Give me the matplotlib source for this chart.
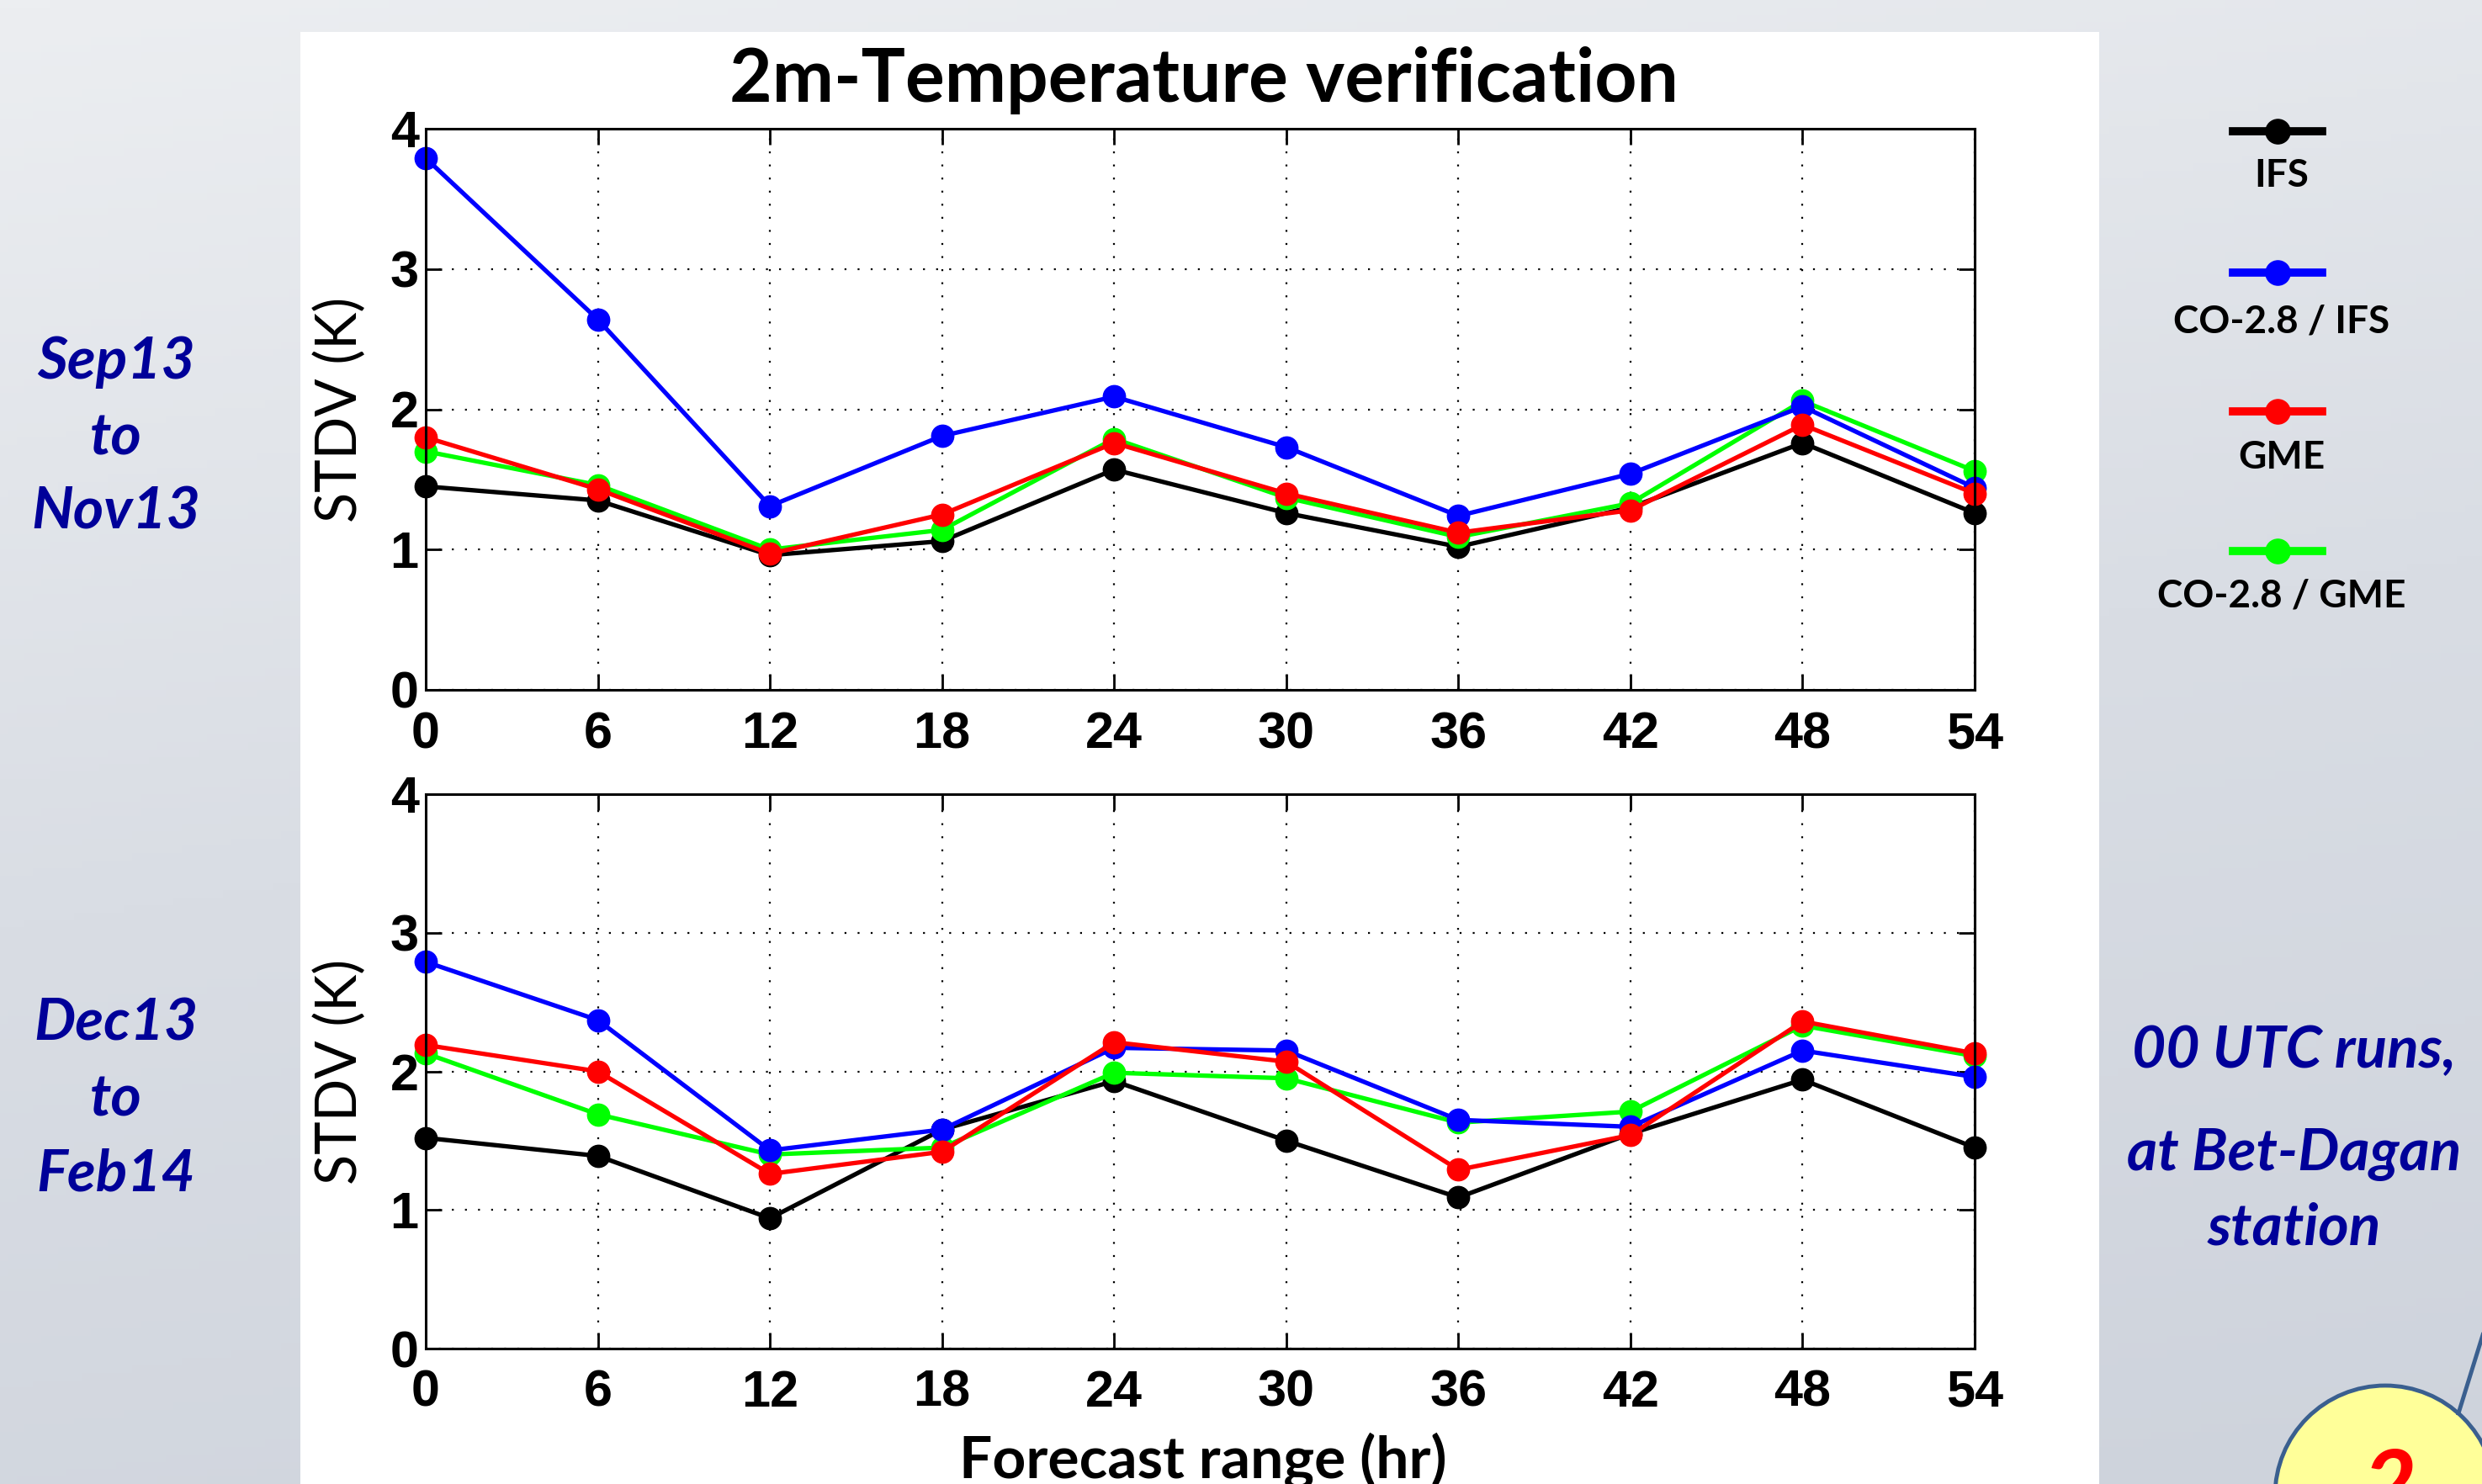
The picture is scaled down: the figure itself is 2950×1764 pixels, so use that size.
import numpy as np
import matplotlib
matplotlib.use("Agg")
import matplotlib.pyplot as plt
from matplotlib.patches import Rectangle, Circle
from matplotlib.lines import Line2D
from matplotlib.colors import LinearSegmentedColormap

# forecast range (hr)
hours = [0, 6, 12, 18, 24, 30, 36, 42, 48, 54]

# Sep13 - Nov13 STDV (K)
ifs_top = [1.45, 1.35, 0.96, 1.06, 1.57, 1.26, 1.02, 1.30, 1.76, 1.26]
co_ifs_top = [3.79, 2.64, 1.31, 1.81, 2.09, 1.73, 1.24, 1.54, 2.02, 1.44]
gme_top = [1.80, 1.43, 0.97, 1.25, 1.76, 1.40, 1.12, 1.28, 1.89, 1.40]
co_gme_top = [1.70, 1.46, 1.00, 1.14, 1.79, 1.37, 1.09, 1.33, 2.06, 1.56]

# Dec13 - Feb14 STDV (K)
ifs_bot = [1.52, 1.39, 0.94, 1.58, 1.93, 1.50, 1.09, 1.55, 1.94, 1.45]
co_ifs_bot = [2.79, 2.37, 1.43, 1.58, 2.17, 2.15, 1.65, 1.60, 2.15, 1.96]
gme_bot = [2.19, 2.00, 1.26, 1.42, 2.21, 2.07, 1.29, 1.54, 2.36, 2.13]
co_gme_bot = [2.13, 1.69, 1.40, 1.45, 1.99, 1.95, 1.63, 1.71, 2.33, 2.11]

labels = ["IFS", "CO-2.8 / IFS", "GME", "CO-2.8 / GME"]
colors = ["black", "#0000ff", "#ff0000", "#00ff00"]
draw_order = [0, 3, 1, 2]
yticks = [0, 1, 2, 3, 4]

W, H = 2950, 1764
fig = plt.figure(figsize=(W / 100, H / 100), dpi=100)
fig.patch.set_facecolor("#d8dce3")

# soft slide background
bg = fig.add_axes([0, 0, 1, 1], zorder=-10)
yy, xx = np.mgrid[0:1:200j, 0:1:300j]
shade = 0.8 * yy + 0.2 * xx
slide_cmap = LinearSegmentedColormap.from_list("slide", ["#eceef1", "#d9dde4", "#ced3dc"])
bg.imshow(shade, cmap=slide_cmap, vmin=0.0, vmax=1.0, aspect="auto",
          extent=[0, 1, 0, 1], origin="upper")
bg.axis("off")

# white plot panel
fig.patches.append(Rectangle((357 / W, 0), (2495 - 357) / W, 1 - 38 / H,
                             transform=fig.transFigure, facecolor="white",
                             edgecolor="none", zorder=-5))

tick_font = {"family": "Liberation Sans", "weight": "bold", "size": 44}
text_font = ["Lato", "DejaVu Sans"]


def draw_panel(rect, series):
    ax = fig.add_axes(rect)
    for i in draw_order:
        ax.plot(hours, series[i], color=colors[i], lw=3.8, marker="o",
                ms=19, mec=colors[i], mfc=colors[i], clip_on=False)
    ax.set_xlim(0, 54)
    ax.set_ylim(0, 4)
    ax.set_xticks(hours)
    ax.set_yticks(yticks)
    ax.set_xticklabels([str(h) for h in hours], fontdict=tick_font)
    ax.set_yticklabels([str(v) for v in yticks], fontdict=tick_font)
    ax.tick_params(direction="in", length=14, width=2, top=True, right=True,
                   pad=6)
    ax.tick_params(axis="x", pad=18)
    ax.grid(True, color="black", linestyle=(0, (1, 6)), lw=1.6)
    for s in ax.spines.values():
        s.set_linewidth(2.2)
    ax.set_ylabel("STDV (K)", family=text_font, fontsize=48, labelpad=20)
    return ax


ax1 = draw_panel([506 / W, 1 - 820 / H, (2347 - 506) / W, (820 - 153) / H],
                 [ifs_top, co_ifs_top, gme_top, co_gme_top])
ax2 = draw_panel([506 / W, 1 - 1603 / H, (2347 - 506) / W, (1603 - 944) / H],
                 [ifs_bot, co_ifs_bot, gme_bot, co_gme_bot])

fig.text(1431 / W, 1 - 95 / H, "2m-Temperature verification", family=text_font,
         weight="bold", fontsize=63, ha="center", va="center")
fig.text(1430 / W, 1 - 1757 / H, "Forecast range (hr)", family=text_font,
         weight="bold", fontsize=50, ha="center", va="baseline")

# legend on the right
leg_y = [156, 324, 489, 655]
txt_y = [209, 382, 544, 709]
for i in range(4):
    y = 1 - leg_y[i] / H
    fig.add_artist(Line2D([2654 / W, 2760 / W], [y, y], color=colors[i], lw=7,
                          transform=fig.transFigure))
    fig.add_artist(Line2D([2707 / W], [y], color=colors[i], marker="o", ms=21,
                          transform=fig.transFigure))
    fig.text(2712 / W, 1 - txt_y[i] / H, labels[i], family=text_font,
             weight="bold", fontsize=33, ha="center", va="center")

navy = "#000099"
side = [("Sep13", 431), ("to", 521), ("Nov13", 609),
        ("Dec13", 1217), ("to", 1307), ("Feb14", 1396)]
for s, y in side:
    fig.text(138 / W, 1 - y / H, s, family=text_font, weight="bold",
             style="italic", fontsize=50, color=navy, ha="center", va="center")

right = [("00 UTC runs,", 1250), ("at Bet-Dagan", 1373), ("station", 1460)]
for s, y in right:
    fig.text(2727 / W, 1 - y / H, s, family=text_font, weight="bold",
             style="italic", fontsize=50, color=navy, ha="center", va="center")

# page-number badge, bottom right
fig.add_artist(Line2D([2922, 2958], [84, 200], color="#3a5f8f", lw=3.5,
                      transform=None))
fig.patches.append(Circle((2835, -14), 131, facecolor="#ffff99",
                          edgecolor="#3a5f8f", lw=3.5, transform=None))
fig.text(2840, 1764 - 1720, "2", transform=None, family=text_font,
         weight="bold", style="italic", fontsize=80, color="red",
         ha="center", va="top")

fig.savefig("out.png", dpi=100, facecolor=fig.get_facecolor())
